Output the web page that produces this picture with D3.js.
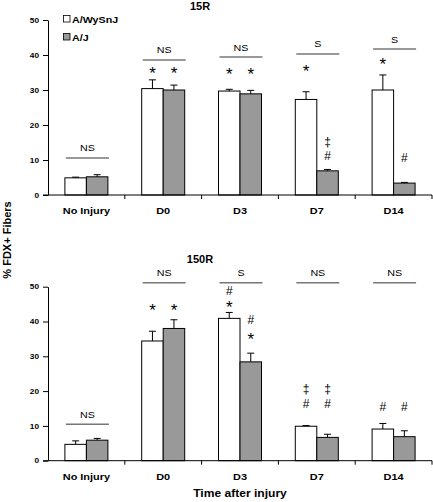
<!DOCTYPE html>
<html><head><meta charset="utf-8">
<script src="https://cdn.jsdelivr.net/npm/d3@7"></script>
<style>body{margin:0;background:#fff}svg{display:block}text{font-family:"Liberation Sans",Arial,sans-serif}</style>
</head><body>
<script>
const categories = ["No Injury","D0","D3","D7","D14"];
const seriesNames = ["A/WySnJ","A/J"];
const yTicks = [0,10,20,30,40,50];
// 15R panel
const r15_wysnj = [4.9,30.4,29.7,27.3,30.0];
const r15_wysnj_err = [0.2,2.5,0.5,2.2,4.3];
const r15_aj = [5.2,30.0,28.9,6.9,3.4];
const r15_aj_err = [0.6,1.4,1.0,0.4,0.2];
const r15_sig = ["NS","NS","NS","S","S"];
const r15_sigLevel = [10.6,38.6,39.4,40.3,41.7];
const r15_marks = [
  ["D0",0,"*",36.0],["D0",1,"*",36.0],
  ["D3",0,"*",35.7],["D3",1,"*",35.7],
  ["D7",0,"*",36.3],["D7",1,"‡",15.1],["D7",1,"#",11.1],
  ["D14",0,"*",38.3],["D14",1,"#",10.6]
];
// 150R panel
const r150_wysnj = [4.7,34.4,40.9,9.9,9.1];
const r150_wysnj_err = [1.0,2.8,1.7,0.2,1.6];
const r150_aj = [5.9,38.0,28.4,6.7,6.9];
const r150_aj_err = [0.5,2.5,2.5,0.9,1.7];
const r150_sig = ["NS","NS","S","NS","NS"];
const r150_sigLevel = [10.5,51.1,51.1,51.1,51.1];
const r150_marks = [
  ["D0",0,"*",44.3],["D0",1,"*",44.3],
  ["D3",0,"#",48.9],["D3",0,"*",45.2],["D3",1,"#",40.6],["D3",1,"*",35.9],
  ["D7",0,"‡",20.3],["D7",0,"#",16.5],["D7",1,"‡",20.3],["D7",1,"#",16.5],
  ["D14",0,"#",15.5],["D14",1,"#",15.5]
];

const W=433,H=502;
const SX=1.15; // horizontal stretch of the original artwork text
const svg=d3.select("body").append("svg").attr("width",W).attr("height",H);
const fills=["#ffffff","#999999"];
const x=d3.scaleBand().domain(categories).range([48,432]).paddingInner(0.44).paddingOuter(0.22);
const xs=d3.scaleBand().domain([0,1]).range([0,x.bandwidth()]);
const glyph={"*":{fs:17,off:0.56},"#":{fs:12,off:0.36},"‡":{fs:12,off:0.28}};

function stext(parent,tx,ty,str,fs,bold,anchor){
  return parent.append("text").attr("transform",`translate(${tx},${ty}) scale(${SX},1)`)
    .attr("text-anchor",anchor||"middle").attr("font-size",fs+"px")
    .attr("font-weight",bold?"bold":"normal").attr("fill","#000").text(str);
}

function panel(title, titleY, yRange, vals, errs, sig, sigLevel, marks){
  const y=d3.scaleLinear().domain([0,50]).range(yRange);
  const g=svg.append("g");
  vals.forEach((s,si)=>{
    g.selectAll(null).data(categories).enter().append("rect")
      .attr("x",c=>x(c)+xs(si)).attr("width",xs.bandwidth())
      .attr("y",(c,i)=>y(s[i])).attr("height",(c,i)=>y(0)-y(s[i]))
      .attr("fill",fills[si]).attr("stroke","#000").attr("stroke-width",1);
    const e=errs[si];
    categories.forEach((c,i)=>{
      const cx=x(c)+xs(si)+xs.bandwidth()/2;
      g.append("line").attr("x1",cx).attr("x2",cx).attr("y1",y(s[i])).attr("y2",y(s[i]+e[i])).attr("stroke","#000");
      g.append("line").attr("x1",cx-3.5).attr("x2",cx+3.5).attr("y1",y(s[i]+e[i])).attr("y2",y(s[i]+e[i])).attr("stroke","#000");
    });
  });
  // y axis
  const ya=g.append("g").attr("transform","translate(48,0)").call(d3.axisLeft(y).tickValues(yTicks).tickSize(5).tickSizeOuter(0).tickFormat(()=>""));
  ya.select(".domain").attr("stroke","#000");
  yTicks.forEach(t=>stext(g,39,y(t)+2.6,String(t),7.2,true,"end"));
  // x axis line + boundary ticks
  g.append("line").attr("x1",43).attr("x2",432).attr("y1",y(0)).attr("y2",y(0)).attr("stroke","#000");
  const step=x.step();
  d3.range(1,6).forEach(k=>{
    g.append("line").attr("x1",48+k*step).attr("x2",48+k*step).attr("y1",y(0)).attr("y2",y(0)+4).attr("stroke","#000");
  });
  categories.forEach(c=>stext(g,x(c)+x.bandwidth()/2,y(0)+19,c,9.5,true));
  g.append("text").attr("x",200).attr("y",titleY).attr("text-anchor","middle").attr("font-size","11px").attr("font-weight","bold").text(title);
  categories.forEach((c,i)=>{
    const ly=y(sigLevel[i]);
    g.append("line").attr("x1",x(c)+1).attr("x2",x(c)+x.bandwidth()+1).attr("y1",ly).attr("y2",ly).attr("stroke","#777").attr("stroke-width",1.5);
    stext(g,x(c)+x.bandwidth()/2+1,ly-6.5,sig[i],9.3,false);
  });
  marks.forEach(m=>{
    const gl=glyph[m[2]];
    const cx=x(m[0])+xs(m[1])+xs.bandwidth()/2;
    g.append("text").attr("x",cx).attr("y",y(m[3])+gl.off*gl.fs).attr("text-anchor","middle").attr("font-size",gl.fs+"px").text(m[2]);
  });
}
panel("15R",10,[195,20],[r15_wysnj,r15_aj],[r15_wysnj_err,r15_aj_err],r15_sig,r15_sigLevel,r15_marks);
panel("150R",263,[460.7,286.7],[r150_wysnj,r150_aj],[r150_wysnj_err,r150_aj_err],r150_sig,r150_sigLevel,r150_marks);

// legend
const lg=svg.append("g");
seriesNames.forEach((n,i)=>{
  const ly=19+i*18;
  lg.append("rect").attr("x",63.5).attr("y",ly-3.5).attr("width",6.5).attr("height",6.5).attr("fill",fills[i]).attr("stroke","#000").attr("stroke-width",0.8);
  stext(lg,72,ly+3.5,n,9.3,true,"start");
});
svg.append("text").attr("transform","translate(11,240) rotate(-90)").attr("text-anchor","middle").attr("font-size","11px").attr("font-weight","bold").text("% FDX+ Fibers");
stext(svg,240,497,"Time after injury",10.5,true);
</script>
</body></html>
